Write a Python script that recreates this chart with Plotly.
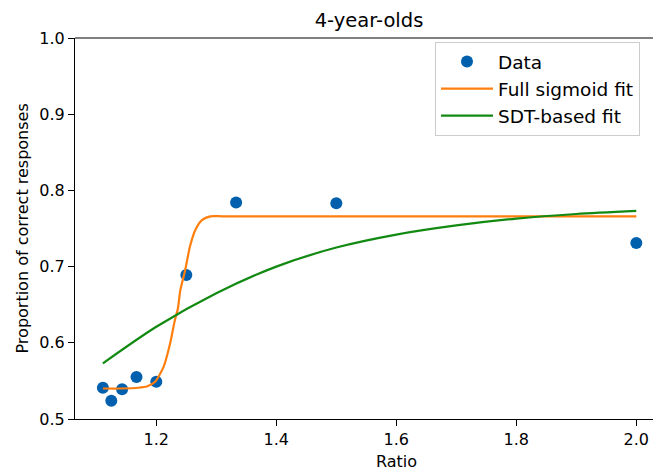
import plotly.graph_objects as go

# Data points
ratio = [1.111, 1.125, 1.143, 1.167, 1.2, 1.25, 1.333, 1.5, 2.0]
prop_correct = [0.541, 0.524, 0.539, 0.555, 0.549, 0.689, 0.784, 0.783, 0.731]

# Full sigmoid fit
sig_x = [1.111, 1.14, 1.17, 1.185, 1.198, 1.212, 1.223, 1.231, 1.236, 1.240,
         1.248, 1.256, 1.265, 1.276, 1.290, 1.31, 1.4, 1.6, 1.8, 2.0]
sig_y = [0.540, 0.540, 0.541, 0.543, 0.549, 0.568, 0.599, 0.630, 0.645, 0.669,
         0.695, 0.726, 0.748, 0.761, 0.766, 0.766, 0.766, 0.766, 0.766, 0.766]

# SDT-based fit
sdt_x = [1.111, 1.2, 1.3, 1.4, 1.5, 1.6, 1.7, 1.8, 1.9, 2.0]
sdt_y = [0.573, 0.621, 0.665, 0.700, 0.725, 0.742, 0.754, 0.763, 0.769, 0.773]

x_ticks = [1.2, 1.4, 1.6, 1.8, 2.0]
y_ticks = [0.5, 0.6, 0.7, 0.8, 0.9, 1.0]

FONT = "DejaVu Sans"
W, H = 653, 470
L, T, B = 75, 38, 51

fig = go.Figure()
fig.add_trace(go.Scatter(x=ratio, y=prop_correct, mode="markers", name="Data",
                         legendgroup="a",
                         marker=dict(color="#0060ad", size=12)))
fig.add_trace(go.Scatter(x=sig_x, y=sig_y, mode="lines", name="Full sigmoid fit",
                         legendgroup="b",
                         line=dict(color="#ff7f0e", width=2.2, shape="spline", smoothing=0.6)))
fig.add_trace(go.Scatter(x=sdt_x, y=sdt_y, mode="lines", name="SDT-based fit",
                         legendgroup="c",
                         line=dict(color="#128a12", width=2.2, shape="spline", smoothing=0.8)))

fig.update_layout(
    width=W, height=H,
    margin=dict(l=L, r=0, t=T, b=B, autoexpand=False),
    paper_bgcolor="white", plot_bgcolor="white",
    font=dict(family=FONT, size=16, color="black"),
    title=dict(text="4-year-olds", x=369 / W, xanchor="center", xref="container",
               y=1 - 20 / H, yanchor="middle", yref="container", font=dict(size=19.5)),
    showlegend=True,
    legend=dict(x=(435 - L) / (W - L), y=1 - (42 - T) / (H - T - B), xanchor="left", yanchor="top",
                bgcolor="rgba(255,255,255,0.8)", bordercolor="#cccccc", borderwidth=1,
                font=dict(size=18.5), tracegroupgap=0, itemwidth=52,
                entrywidth=200, entrywidthmode="pixels"),
    xaxis=dict(range=[1.0645, 2.0278], tickvals=x_ticks, ticktext=[f"{v:.1f}" for v in x_ticks],
               showgrid=False, zeroline=False, showline=True, linecolor="black", linewidth=1,
               ticks="outside", ticklen=6, tickcolor="black", automargin=False),
    yaxis=dict(range=[0.5, 1.0], tickvals=y_ticks, ticktext=[f"{v:.1f}" for v in y_ticks],
               showgrid=False, zeroline=False, showline=True, linecolor="black", linewidth=1,
               ticks="outside", ticklen=6, tickcolor="black", automargin=False),
)
fig.add_shape(type="line", xref="paper", yref="paper", x0=0, x1=1, y0=1, y1=1,
              line=dict(color="black", width=1))
fig.add_annotation(text="Ratio", xref="x", x=1.6, yref="paper", y=-(461.5 - (H - B)) / (H - T - B),
                   yanchor="middle", xanchor="center", showarrow=False, font=dict(size=16))
fig.add_annotation(text="Proportion of correct responses", textangle=-90,
                   xref="paper", x=-(L - 22) / (W - L), xanchor="center",
                   yref="paper", y=0.5, yanchor="middle", showarrow=False, font=dict(size=16))

fig.write_html("out.html", config={"displayModeBar": False},
               post_script="document.body.style.margin='0';")
